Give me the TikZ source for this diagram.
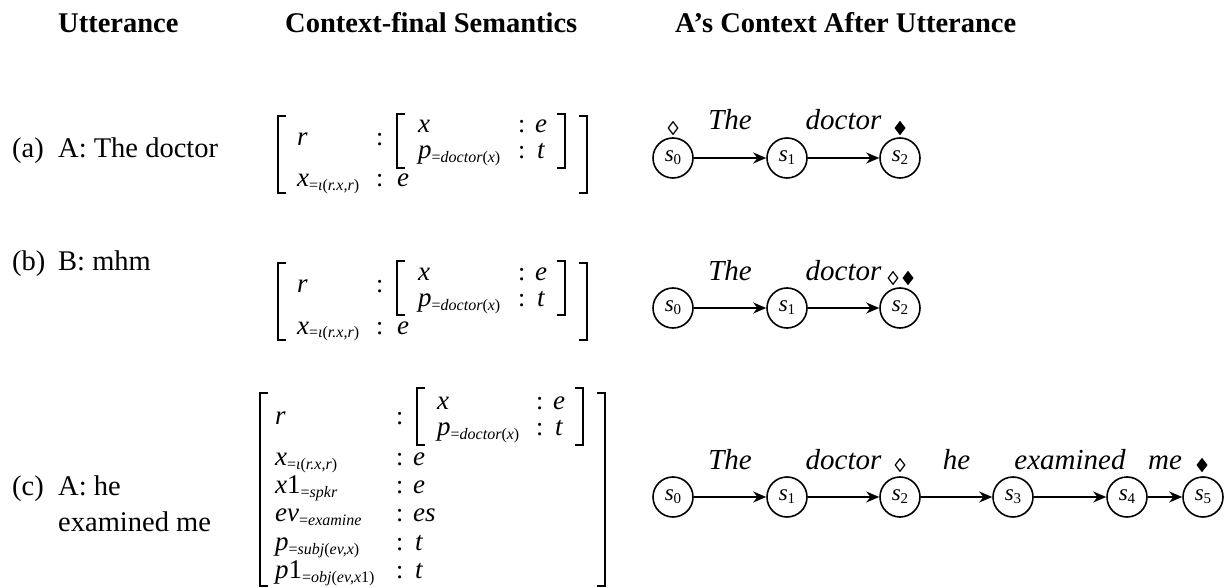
\documentclass[tikz,border=0pt]{standalone}
\usepackage{fontspec}
\setmainfont{Liberation Serif}
\usetikzlibrary{shapes.geometric,arrows.meta}
\newcommand{\fs}[1]{\fontsize{#1}{#1}\selectfont}
\newcommand{\sbs}[1]{\raisebox{-4pt}{\fs{16}\upshape #1}}
\newcommand{\sst}[1]{s\raisebox{-3pt}{\fs{15}\upshape #1}}
\tikzset{
  txt/.style={inner sep=0pt, anchor=base west, font=\fs{28.5}},
  hdr/.style={inner sep=0pt, anchor=base west, font=\fs{28.5}\bfseries},
  av/.style={inner sep=0pt, anchor=base west, font=\fs{27}\itshape},
  avc/.style={inner sep=0pt, anchor=base west, font=\fs{26}},
  brk/.style={line width=1.8pt},
  st/.style={circle, draw, line width=1.6pt, minimum size=40pt, inner sep=0pt, font=\fs{23}\itshape},
  arr/.style={-{Stealth[length=13pt,width=11pt]}, line width=1.6pt},
  wl/.style={inner sep=0pt, anchor=base, font=\fs{29}\itshape, yshift=28pt},
  odia/.style={diamond, draw, line width=1.2pt, inner sep=0pt, minimum width=10pt, minimum height=13pt},
  fdia/.style={odia, fill=black},
}
\newcommand{\AVMab}[1]{%
  \draw[brk] (286,116) -- (278,116) -- (278,193) -- (286,193);
  \draw[brk] (579,116) -- (587,116) -- (587,193) -- (579,193);
  \draw[brk] (405,114) -- (397,114) -- (397,168) -- (405,168);
  \draw[brk] (557,114) -- (565,114) -- (565,168) -- (557,168);
  \node[av] (#1r) at (297,146) {r};
  \node[avc] (#1rc) at (376,146) {:};
  \node[av] (#1x) at (418,133) {x};
  \node[avc] (#1xc) at (518,133) {:};
  \node[av] (#1xt) at (535,133) {e};
  \node[av] (#1p) at (418,159) {p\sbs{=\textit{doctor}(\textit{x})}};
  \node[avc] (#1pc) at (518,159) {:};
  \node[av] (#1pt) at (537,159) {t};
  \node[av] (#1xi) at (297,187) {x\sbs{=\textit{ι}(\textit{r.x,r})}};
  \node[avc] (#1xic) at (376,187) {:};
  \node[av] (#1xit) at (397,187) {e};
}
\begin{document}
\begin{tikzpicture}[x=1pt,y=-1pt]
\useasboundingbox (0,0) rectangle (1224,588);
% headers
\node[hdr] (h1) at (58,33) {Utterance};
\node[hdr] (h2) at (285,33) {Context-final Semantics};
\node[hdr] (h3) at (675,33) {A’s Context After Utterance};
% utterances
\node[txt] (la) at (12,158) {(a)};
\node[txt] (ua) at (58,158) {A: The doctor};
\node[txt] (lb) at (12,270) {(b)};
\node[txt] (ub) at (58,270) {B: mhm};
\node[txt] (lc) at (12,495) {(c)};
\node[txt] (uc1) at (58,495) {A: he};
\node[txt] (uc2) at (58,531) {examined me};
% AVM a
\AVMab{a}
% AVM b
\begin{scope}[shift={(0,147)}]
\AVMab{b}
\end{scope}
% AVM c
\draw[brk] (268,393) -- (260,393) -- (260,586) -- (268,586);
\draw[brk] (597,393) -- (605,393) -- (605,586) -- (597,586);
\draw[brk] (425,388) -- (417,388) -- (417,445) -- (425,445);
\draw[brk] (575,388) -- (583,388) -- (583,445) -- (575,445);
\node[av] (cr) at (275,424) {r};
\node[avc] (crc) at (396,424) {:};
\node[av] (cx) at (437,409) {x};
\node[avc] (cxc) at (536,409) {:};
\node[av] (cxt) at (553,409) {e};
\node[av] (cp) at (437,435) {p\sbs{=\textit{doctor}(\textit{x})}};
\node[avc] (cpc) at (536,435) {:};
\node[av] (cpt) at (555,435) {t};
\node[av] (cxi) at (275,465) {x\sbs{=\textit{ι}(\textit{r.x,r})}};
\node[avc] (cxic) at (396,465) {:};
\node[av] (cxit) at (413,465) {e};
\node[av] (cx1) at (275,493) {x{\upshape 1}\sbs{=\textit{spkr}}};
\node[avc] (cx1c) at (396,493) {:};
\node[av] (cx1t) at (413,493) {e};
\node[av] (cev) at (275,521) {ev\sbs{=\textit{examine}}};
\node[avc] (cevc) at (396,521) {:};
\node[av] (cevt) at (413,521) {es};
\node[av] (cps) at (275,550) {p\sbs{=\textit{subj}(\textit{ev,x})}};
\node[avc] (cpsc) at (396,550) {:};
\node[av] (cpst) at (415,550) {t};
\node[av] (cp1) at (275,578) {p{\upshape 1}\sbs{=\textit{obj}(\textit{ev,x}1)}};
\node[avc] (cp1c) at (396,578) {:};
\node[av] (cp1t) at (415,578) {t};
% automaton a
\node[st] (a0) at (673,158) {\sst{0}};
\node[st] (a1) at (787,158) {\sst{1}};
\node[st] (a2) at (900,158) {\sst{2}};
\draw[arr] (a0) -- (a1) node[wl, midway] (aw1) {The};
\draw[arr] (a1) -- (a2) node[wl, midway] (aw2) {doctor};
\node[odia] (ad0) at (673,128) {};
\node[fdia] (ad2) at (900,128) {};
% automaton b
\node[st] (b0) at (673,308) {\sst{0}};
\node[st] (b1) at (787,308) {\sst{1}};
\node[st] (b2) at (900,308) {\sst{2}};
\draw[arr] (b0) -- (b1) node[wl, midway] (bw1) {The};
\draw[arr] (b1) -- (b2) node[wl, midway] (bw2) {doctor};
\node[odia] (bd0) at (893,278) {};
\node[fdia] (bd2) at (908,278) {};
% automaton c
\node[st] (c0) at (673,497) {\sst{0}};
\node[st] (c1) at (787,497) {\sst{1}};
\node[st] (c2) at (900,497) {\sst{2}};
\node[st] (c3) at (1013,497) {\sst{3}};
\node[st] (c4) at (1127,497) {\sst{4}};
\node[st] (c5) at (1203,497) {\sst{5}};
\draw[arr] (c0) -- (c1) node[wl, midway] (cw1) {The};
\draw[arr] (c1) -- (c2) node[wl, midway] (cw2) {doctor};
\draw[arr] (c2) -- (c3) node[wl, midway] (cw3) {he};
\draw[arr] (c3) -- (c4) node[wl, midway] (cw4) {examined};
\draw[arr] (c4) -- (c5) node[wl, midway] (cw5) {me};
\node[odia] (cd2) at (900,465) {};
\node[fdia] (cd5) at (1202,465) {};
\end{tikzpicture}
\end{document}
